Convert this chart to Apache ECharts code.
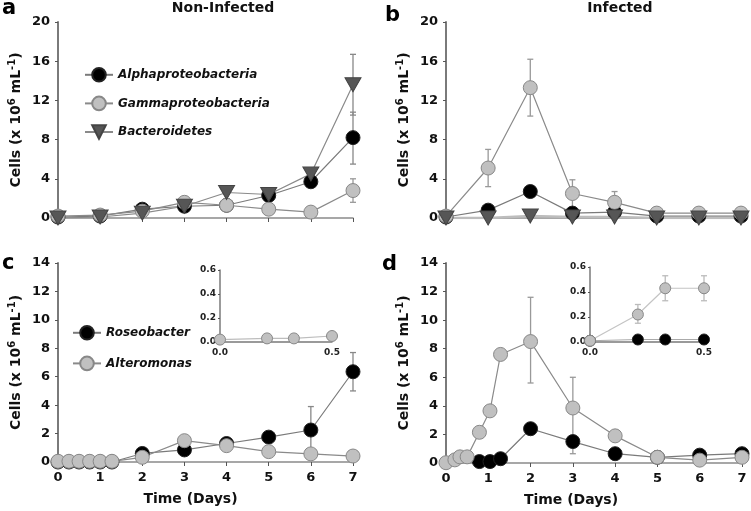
<!DOCTYPE html>
<html><head><meta charset="utf-8">
<script src="https://cdn.jsdelivr.net/npm/echarts@6/dist/echarts.min.js"></script>
<style>html,body{margin:0;padding:0;background:#fff}#c{width:751px;height:511px}</style>
</head><body><div id="c"></div>
<script>
// ---------- data ----------
const days = [0,1,2,3,4,5,6,7];
const yTicksAB = [0,4,8,12,16,20];
const yTicksCD = [0,2,4,6,8,10,12,14];
const yTicksInset = [0,0.2,0.4,0.6];
const xTicksInset = [0,0.5];

// panel a (Non-Infected)
const aAlpha = [0.1,0.2,0.9,1.2,1.3,2.3,3.7,8.2];
const aAlphaErr = [[7,5.5,10.8]];
const aGamma = [0.2,0.3,0.7,1.6,1.3,0.9,0.6,2.8];
const aGammaErr = [[7,1.6,4.0]];
const aBact = [0.0,0.1,0.5,1.2,2.6,2.4,4.5,13.6];
const aBactErr = [[7,10.5,16.7]];

// panel b (Infected)
const bAlpha = [0.1,0.8,2.7,0.5,0.6,0.2,0.2,0.2];
const bGamma = [0.2,5.1,13.3,2.5,1.6,0.5,0.5,0.5];
const bGammaErr = [[1,3.2,7.0],[2,10.4,16.2],[3,1.0,3.9],[4,0.5,2.7]];
const bBact = [0.0,0.0,0.2,0.1,0.1,0.0,0.0,0.0];

// panel c
const cX = [0,0.26,0.5,0.75,1,1.28,2,3,4,5,6,7];
const cRoseo = [0,0,0,0,0,0,0.6,0.85,1.3,1.75,2.25,6.35];
const cRoseoErr = [[6,0.6,3.9],[7,5.0,7.7]];
const cAltero = [0.05,0.05,0.05,0.05,0.05,0.05,0.33,1.5,1.15,0.73,0.57,0.42];
const cInsetX = [0,0.21,0.33,0.5];
const cInsetAltero = [0.02,0.03,0.03,0.05];

// panel d
const dAlteroX = [0,0.21,0.33,0.5,0.79,1.04,1.29,2,3,4,5,6,7];
const dAltero = [0.02,0.22,0.43,0.43,2.15,3.65,7.6,8.5,3.85,1.9,0.4,0.2,0.4];
const dAlteroErr = [[2,5.6,11.6],[3,0.65,6.0],[4,1.5,2.3]];
const dRoseoX = [0.79,1.04,1.29,2,3,4,5,6,7];
const dRoseo = [0.1,0.1,0.3,2.4,1.5,0.65,0.4,0.55,0.65];
const dInsetX = [0,0.21,0.33,0.5];
const dInsetRoseo = [0.01,0.02,0.02,0.02];
const dInsetAltero = [0.01,0.22,0.43,0.43];
const dInsetAlteroErr = [[0.21,0.15,0.3],[0.33,0.33,0.53],[0.5,0.33,0.53]];
const dArrow = [0.21,0.67,0.36]; // x, from, to

// ---------- chart ----------
const FF = '"DejaVu Sans", Verdana, sans-serif';
const zip = (xs, ys) => xs.map((x,i)=>[x, ys[i]]);
const BLACK = {itemStyle:{color:'#000',borderColor:'#222',borderWidth:1}, lineStyle:{color:'#7a7a7a',width:1.2}};
const GRAY = {itemStyle:{color:'#c0c0c0',borderColor:'#888',borderWidth:1}, lineStyle:{color:'#8a8a8a',width:1.2}};
const TRI = {itemStyle:{color:'#565656',borderColor:'#444',borderWidth:1}, lineStyle:{color:'#8a8a8a',width:1.2}};

function line(name, xs, ys, gi, st, extra) {
  return Object.assign({
    type:'line', name, xAxisIndex:gi, yAxisIndex:gi, data: zip(xs, ys),
    symbol:'circle', symbolSize:14, showSymbol:true, animation:false, silent:true,
    itemStyle: st.itemStyle, lineStyle: st.lineStyle, z:3
  }, extra||{});
}
function err(data, gi, color) {
  return {
    type:'custom', xAxisIndex:gi, yAxisIndex:gi, data, z:2, silent:true, animation:false,
    encode:{x:0, y:[1,2]},
    renderItem(params, api) {
      const x = api.value(0), lo = api.value(1), hi = api.value(2);
      const p1 = api.coord([x, lo]), p2 = api.coord([x, hi]), w = 3;
      const s = {stroke: color, lineWidth: 1.3};
      return {type:'group', children:[
        {type:'line', shape:{x1:p1[0],y1:p1[1],x2:p2[0],y2:p2[1]}, style:s},
        {type:'line', shape:{x1:p2[0]-w,y1:p2[1],x2:p2[0]+w,y2:p2[1]}, style:s},
        {type:'line', shape:{x1:p1[0]-w,y1:p1[1],x2:p1[0]+w,y2:p1[1]}, style:s}
      ]};
    }
  };
}

const yName = '{t|Cells (x 10}{s|6}{t| mL}{s|-1}{t|)}';
const yNameStyle = {rich:{
  t:{fontSize:14,fontWeight:'bold',fontFamily:FF,color:'#111'},
  s:{fontSize:10,fontWeight:'bold',fontFamily:FF,color:'#111',padding:[0,0,8,0]}
}};
const axLine = {show:true, lineStyle:{color:'#7a7a7a', width:2}};
const lab = {fontFamily:FF, fontWeight:'bold', fontSize:13, color:'#111'};
const labS = {fontFamily:FF, fontWeight:'bold', fontSize:9, color:'#222'};

function mainY(gi, ticks) {
  return {type:'value', gridIndex:gi, min:ticks[0], max:ticks[ticks.length-1], interval:ticks[1]-ticks[0],
    axisLine:axLine, axisTick:{show:true,length:3,lineStyle:{color:'#555'}}, splitLine:{show:false},
    axisLabel:Object.assign({margin:8}, lab),
    name:yName, nameLocation:'middle', nameGap:33, nameTextStyle:yNameStyle};
}
function mainX(gi, showLab, shift) {
  return {type:'value', gridIndex:gi, min:days[0], max:days[days.length-1], interval:1,
    axisLine:{show:true, onZero:false, lineStyle:{color:'#8a8a8a', width:1.5}},
    axisTick:{show:true,length:4,lineStyle:{color:'#555'}}, splitLine:{show:false},
    axisLabel:Object.assign({show:showLab, margin:9}, lab),
    name: showLab ? 'Time (Days)' : '', nameLocation:'middle', nameGap:30,
    nameTextStyle:{fontFamily:FF,fontWeight:'bold',fontSize:14,color:'#111',padding:[0,shift,0,0]}};
}
function insetY(gi) {
  return {type:'value', gridIndex:gi, min:yTicksInset[0], max:yTicksInset[yTicksInset.length-1], interval:0.2,
    axisLine:{show:true,lineStyle:{color:'#7a7a7a',width:1.5}}, axisTick:{show:true,length:2,lineStyle:{color:'#555'}},
    splitLine:{show:false}, axisLabel:Object.assign({margin:4, formatter:v=>v.toFixed(1)}, labS)};
}
function insetX(gi) {
  return {type:'value', gridIndex:gi, min:xTicksInset[0], max:xTicksInset[1], interval:0.5,
    axisLine:{show:true,onZero:false,lineStyle:{color:'#7a7a7a',width:1.5}}, axisTick:{show:false},
    splitLine:{show:false}, axisLabel:Object.assign({margin:6, formatter:v=>v.toFixed(1)}, labS)};
}

const option = {
  animation:false,
  backgroundColor:'#fff',
  grid:[
    {left:58, top:22, width:295, height:196},
    {left:446, top:22, width:295, height:196},
    {left:58, top:263, width:295, height:199},
    {left:446, top:263, width:296, height:200},
    {left:220, top:270, width:112, height:72},
    {left:590, top:267, width:114, height:75}
  ],
  xAxis:[mainX(0,false,0), mainX(1,false,0), mainX(2,true,30), mainX(3,true,46), insetX(4), insetX(5)],
  yAxis:[mainY(0,yTicksAB), mainY(1,yTicksAB), mainY(2,yTicksCD), mainY(3,yTicksCD), insetY(4), insetY(5)],
  legend:[
    {data:['Alphaproteobacteria','Gammaproteobacteria','Bacteroidetes'], orient:'vertical', left:79, top:62,
     itemWidth:28, itemHeight:17, itemGap:13, selectedMode:false,
     textStyle:{fontFamily:FF,fontWeight:'bold',fontStyle:'italic',fontSize:12,color:'#111'}},
    {data:['Roseobacter','Alteromonas'], orient:'vertical', left:67, top:320,
     itemWidth:28, itemHeight:17, itemGap:15, selectedMode:false,
     textStyle:{fontFamily:FF,fontWeight:'bold',fontStyle:'italic',fontSize:12,color:'#111'}}
  ],
  graphic:[
    {type:'text', left:2, top:-2, style:{text:'a', font:'bold 21px '+FF, fill:'#000'}},
    {type:'text', left:385, top:5, style:{text:'b', font:'bold 21px '+FF, fill:'#000'}},
    {type:'text', left:2, top:253, style:{text:'c', font:'bold 21px '+FF, fill:'#000'}},
    {type:'text', left:382, top:254, style:{text:'d', font:'bold 21px '+FF, fill:'#000'}},
    {type:'text', x:223, y:1, style:{text:'Non-Infected', font:'bold 14px '+FF, fill:'#111', textAlign:'center'}},
    {type:'text', x:620, y:1, style:{text:'Infected', font:'bold 14px '+FF, fill:'#111', textAlign:'center'}}
  ],
  series:[
    // a
    err(aAlphaErr,0,'#888'), err(aGammaErr,0,'#999'), err(aBactErr,0,'#888'),
    line('Alphaproteobacteria', days, aAlpha, 0, BLACK),
    line('Gammaproteobacteria', days, aGamma, 0, GRAY),
    line('Bacteroidetes', days, aBact, 0, TRI, {symbol:'triangle', symbolRotate:180, symbolSize:[16,14]}),
    // b
    err(bGammaErr,1,'#999'),
    line('Alphaproteobacteria', days, bAlpha, 1, BLACK),
    line('Gammaproteobacteria', days, bGamma, 1, GRAY),
    line('Bacteroidetes', days, bBact, 1, {itemStyle:TRI.itemStyle, lineStyle:{color:'#bdbdbd',width:2.5}}, {symbol:'triangle', symbolRotate:180, symbolSize:[16,14]}),
    // c
    err(cRoseoErr,2,'#888'),
    line('Roseobacter', cX, cRoseo, 2, BLACK),
    line('Alteromonas', cX, cAltero, 2, GRAY),
    line('Alteromonas', cInsetX, cInsetAltero, 4, {itemStyle:GRAY.itemStyle, lineStyle:{color:'#bdbdbd',width:1.2}}, {symbolSize:11}),
    // d
    err(dAlteroErr,3,'#999'),
    line('Roseobacter', dRoseoX, dRoseo, 3, BLACK),
    line('Alteromonas', dAlteroX, dAltero, 3, GRAY),
    err(dInsetAlteroErr,5,'#bbb'),
    line('Roseobacter', dInsetX, dInsetRoseo, 5, {itemStyle:BLACK.itemStyle, lineStyle:{color:'#aaa',width:1.2}}, {symbolSize:11}),
    line('Alteromonas', dInsetX, dInsetAltero, 5, {itemStyle:GRAY.itemStyle, lineStyle:{color:'#c4c4c4',width:1.2}}, {symbolSize:11, clip:false,
      markLine:{silent:true, symbol:['none','arrow'], symbolSize:[10,12], animation:false, label:{show:false},
        lineStyle:{color:'#000', width:3, type:'solid'},
        data:[[{coord:[dArrow[0], dArrow[1]]},{coord:[dArrow[0], dArrow[2]]}]]}})
  ]
};
const chart = echarts.init(document.getElementById('c'), null, {renderer:'canvas'});
chart.setOption(option);
</script></body></html>
